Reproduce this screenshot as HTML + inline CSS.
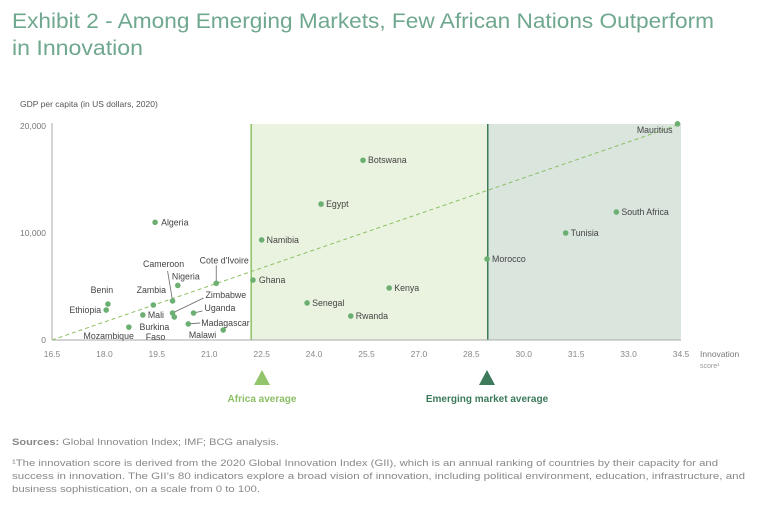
<!DOCTYPE html>
<html><head><meta charset="utf-8"><style>
body{margin:0;background:#fff;width:768px;height:506px;overflow:hidden;font-family:"Liberation Sans",sans-serif}
svg text{font-family:"Liberation Sans",sans-serif}
</style></head><body>
<svg id="c" width="768" height="506" viewBox="0 0 768 506">
<text x="12" y="28" font-size="21" fill="#6fa88e" textLength="702" lengthAdjust="spacingAndGlyphs">Exhibit 2 - Among Emerging Markets, Few African Nations Outperform</text>
<text x="12" y="55" font-size="21" fill="#6fa88e" textLength="131" lengthAdjust="spacingAndGlyphs">in Innovation</text>
<text x="20" y="107" font-size="8.5" fill="#555">GDP per capita (in US dollars, 2020)</text>
<text x="700" y="357" font-size="8.5" fill="#777">Innovation</text>
<text x="700" y="368" font-size="7" fill="#999">score¹</text>
<g id="g"></g>
<polygon points="262,370 254,385 270,385" fill="#92c46b"/>
<text x="262" y="402" font-size="10" font-weight="bold" fill="#8cbe64" text-anchor="middle">Africa average</text>
<polygon points="487,370 479,385 495,385" fill="#3d7a5b"/>
<text x="487" y="402" font-size="10" font-weight="bold" fill="#3d7a5b" text-anchor="middle">Emerging market average</text>
<text x="12" y="445" font-size="9" fill="#888" textLength="267" lengthAdjust="spacingAndGlyphs"><tspan font-weight="bold">Sources:</tspan> Global Innovation Index; IMF; BCG analysis.</text>
<g font-size="9.5" fill="#888">
<text x="12" y="466" textLength="706" lengthAdjust="spacingAndGlyphs">¹The innovation score is derived from the 2020 Global Innovation Index (GII), which is an annual ranking of countries by their capacity for and</text>
<text x="12" y="479" textLength="733" lengthAdjust="spacingAndGlyphs">success in innovation. The GII’s 80 indicators explore a broad vision of innovation, including political environment, education, infrastructure, and</text>
<text x="12" y="492" textLength="248" lengthAdjust="spacingAndGlyphs">business sophistication, on a scale from 0 to 100.</text>
</g>
</svg>
<script>
const countries=["Mauritius","Botswana","Egypt","Namibia","Algeria","Ghana","Cote d'Ivoire","Nigeria","Cameroon","Zambia","Benin","Ethiopia","Mali","Zimbabwe","Burkina Faso","Uganda","Madagascar","Malawi","Mozambique","Senegal","Rwanda","Kenya","Morocco","Tunisia","South Africa"];
const innovation=[34.4,25.4,24.2,22.5,19.45,22.25,21.2,20.1,19.95,19.4,18.1,18.05,19.1,19.95,20.0,20.55,20.4,21.4,18.7,23.8,25.05,26.15,28.95,31.2,32.65];
const gdp=[20200,16800,12700,9350,11000,5600,5300,5100,3650,3270,3360,2800,2340,2520,2150,2520,1500,930,1200,3460,2240,4860,7570,10000,11960];
const xTicks=[16.5,18.0,19.5,21.0,22.5,24.0,25.5,27.0,28.5,30.0,31.5,33.0,34.5];
const yTicks=[0,10000,20000];
const africaAvg=[22.2];
const emergingAvg=[28.97];
const trend=[[16.5,0],[34.5,20200]];
const lay={"Mauritius":[-5,9,"end"],"Botswana":[5,3,"start"],"Egypt":[5,3,"start"],"Namibia":[5,3,"start"],"Algeria":[6,3,"start"],"Ghana":[6,3,"start"],"Cote d'Ivoire":[8,-20,"middle",[0,-18]],"Nigeria":[8,-6,"middle"],"Cameroon":[-9,-34,"middle",[-5,-30]],"Zambia":[-2,-12,"middle"],"Benin":[-6,-11,"middle"],"Ethiopia":[-5,3,"end"],"Mali":[5,3,"start"],"Zimbabwe":[33,-15,"start",[31,-15]],"Burkina Faso":[-5,13,"end"],"Uganda":[11,-2,"start",[9,-2]],"Madagascar":[13,2,"start",[12,-1]],"Malawi":[-7,8,"end"],"Mozambique":[5,12,"end"],"Senegal":[5,3,"start"],"Rwanda":[5,3,"start"],"Kenya":[5,3,"start"],"Morocco":[5,3,"start"],"Tunisia":[5,3,"start"],"South Africa":[5,3,"start"]};
const X0=52,X1=681,Y0=340,Y1=126;
const xs=v=>X0+(v-16.5)/(34.5-16.5)*(X1-X0);
const ys=v=>Y0-v/20000*(Y0-Y1);
const NS="http://www.w3.org/2000/svg",g=document.getElementById('g');
function mk(t,a){const e=document.createElementNS(NS,t);for(const k in a)e.setAttribute(k,a[k]);g.appendChild(e);return e;}
let r=mk('rect',{x:xs(africaAvg[0]),y:124,width:xs(emergingAvg[0])-xs(africaAvg[0]),height:Y0-124,fill:'#eaf3df'});


r=mk('rect',{x:xs(emergingAvg[0]),y:124,width:X1-xs(emergingAvg[0]),height:Y0-124,fill:'#d9e5dd'});


let l=mk('line',{x1:xs(africaAvg[0]),x2:xs(africaAvg[0]),y1:124,y2:Y0,stroke:'#8cc063','stroke-width':1.5});


l=mk('line',{x1:xs(emergingAvg[0]),x2:xs(emergingAvg[0]),y1:124,y2:Y0,stroke:'#3d7a5b','stroke-width':1.5});


l=mk('line',{x1:X0,x2:X0,y1:123,y2:Y0,stroke:'#aaa','stroke-width':1});


l=mk('line',{x1:X0,x2:X1,y1:Y0,y2:Y0,stroke:'#aaa','stroke-width':1});


xTicks.forEach(v=>{const t=mk('text',{x:xs(v),y:357,'font-size':8.5,fill:'#888','text-anchor':'middle'});t.textContent=v.toFixed(1);

});
yTicks.forEach(v=>{const t=mk('text',{x:X0-6,y:ys(v)+3,'font-size':8.5,fill:'#777','text-anchor':'end'});t.textContent=v.toLocaleString('en-US');

});
l=mk('line',{x1:xs(trend[0][0]),y1:ys(trend[0][1]),x2:xs(trend[1][0]),y2:ys(trend[1][1]),stroke:'#8cc063','stroke-width':1,'stroke-dasharray':'4,3'});


countries.forEach((c,i)=>{const px=xs(innovation[i]),py=ys(gdp[i]);const L=lay[c];
if(L[3]){const ln=mk('line',{x1:px+L[3][0],y1:py+L[3][1],x2:px,y2:py,stroke:'#666','stroke-width':0.8});

}
const d=mk('circle',{cx:px,cy:py,r:2.8,fill:'#6bb072'});


const lines=c==="Burkina Faso"?["Burkina","Faso"]:[c];
lines.forEach((s,j)=>{const t=mk('text',{x:px+L[0]+(j?-4:0),y:py+L[1]+j*10,'font-size':8.8,fill:'#444','text-anchor':L[2]});t.textContent=s;

});});
</script>
</body></html>
